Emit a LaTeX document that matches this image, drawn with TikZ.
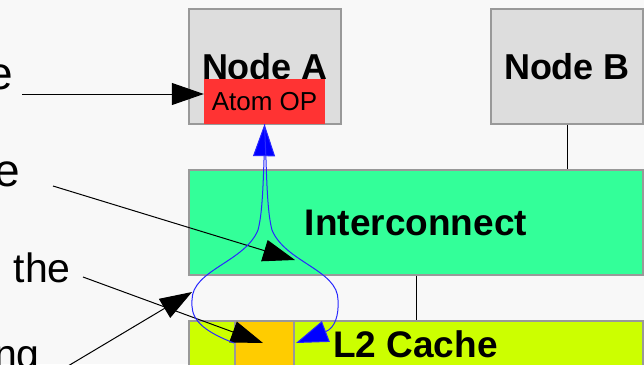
\documentclass[tikz,border=0pt]{standalone}
\usepackage{fontspec}
\setmainfont{Liberation Sans}
\usetikzlibrary{arrows.meta}
\definecolor{bgcol}{RGB}{248,248,248}
\definecolor{boxline}{RGB}{153,153,153}
\definecolor{nodegray}{RGB}{221,221,221}
\definecolor{icgreen}{RGB}{51,255,153}
\definecolor{l2green}{RGB}{204,255,0}
\definecolor{slotorange}{RGB}{255,204,0}
\definecolor{atomred}{RGB}{255,51,51}
\definecolor{flowblue}{RGB}{40,40,255}
\begin{document}
\begin{tikzpicture}[x=1pt,y=-1pt,
  box/.style={draw=boxline, line width=1.2pt, inner sep=0pt,
    font=\fontsize{36}{40}\selectfont\bfseries},
  bigbox/.style={box, font=\fontsize{37}{40}\selectfont\bfseries},
  plainbox/.style={draw=boxline, line width=1.2pt, inner sep=0pt},
  conn/.style={line width=1pt, -{Triangle[length=32pt,width=22pt]}},
  bluearr/.style={draw=flowblue, line width=1pt,
    -{Triangle[length=32pt,width=22pt,fill=blue]}},
  sidetext/.style={inner sep=0pt, anchor=base east},
  link/.style={line width=1pt}]
\clip (0,0) rectangle (644,364);
\fill[bgcol] (0,0) rectangle (644,364);

% boxes
\node[box, fill=nodegray, minimum width=152pt, minimum height=115pt] (na) at (265,66.5) {Node A};
\node[box, fill=nodegray, minimum width=152pt, minimum height=115pt] (nb) at (567,66.5) {Node B};
\node[inner sep=0pt, fill=atomred, minimum width=121pt, minimum height=45pt,
      font=\fontsize{26}{28}\selectfont] (atom) at (264.5,101.5) {Atom OP};
\node[bigbox, fill=icgreen, minimum width=454pt, minimum height=105pt] (ic) at (416,222.5) {Interconnect};
\node[plainbox, fill=l2green, minimum width=454pt, minimum height=105pt] (l2) at (416,373.5) {};
\node[plainbox, fill=slotorange, minimum width=59pt, minimum height=105pt] (slot) at (264.5,373.5) {};
\node[inner sep=0pt, anchor=base, font=\fontsize{37}{40}\selectfont\bfseries] (l2t) at (415.5,357) {L2 Cache};

% connectors between boxes
\draw[link] (nb.south) -- (nb.south |- ic.north);
\draw[link] (ic.south) -- (l2.north);

% side texts
\node[sidetext, font=\fontsize{46}{50}\selectfont] (s1) at (13,89) {e};
\node[sidetext, font=\fontsize{46}{50}\selectfont] (s2) at (20,186) {e};
\node[sidetext, font=\fontsize{41}{44}\selectfont] (s3) at (71,282) {the};
\node[sidetext, font=\fontsize{41}{44}\selectfont] (s4) at (40,368) {ng};

% arrow start/end points
\coordinate (a1s) at (22,94);
\coordinate (a2s) at (53,186);
\coordinate (a2e) at (295,260);
\coordinate (a3s) at (83,277);
\coordinate (a3e) at (263,343);
\coordinate (a4s) at (68,366);
\coordinate (a4e) at (192,292);

\draw[conn] (a1s) -- (atom.west |- a1s);
\draw[conn] (a2s) -- (a2e);
\draw[conn] (a3s) -- (a3e);
\draw[conn] (a4s) -- (a4e);

% blue flow curves
\coordinate (bl) at (234,343);
\coordinate (br) at (296,343);
\draw[bluearr] (bl) .. controls (195,328) and (191,315) .. (192,300)
  .. controls (192,270) and (245,262) .. (258,230)
  .. controls (262,215) and (263,190) .. (264,160) -- (atom.south);
\draw[bluearr] (atom.south) -- (266,160)
  .. controls (267,190) and (268,215) .. (272,230)
  .. controls (285,262) and (338,270) .. (338,300)
  .. controls (339,315) and (335,328) .. (br);
\end{tikzpicture}
\end{document}
